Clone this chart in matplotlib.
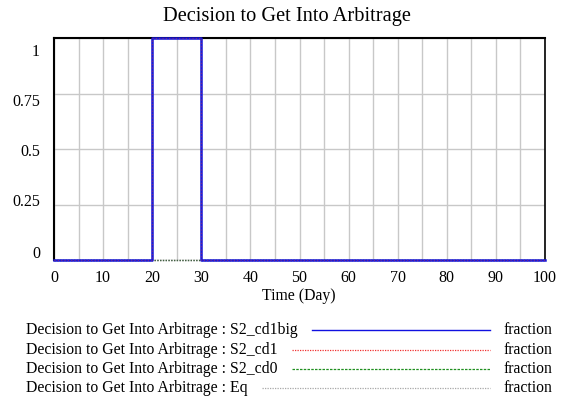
import matplotlib
matplotlib.use("Agg")
import matplotlib.pyplot as plt
from matplotlib.lines import Line2D
from matplotlib.transforms import ScaledTranslation

plt.rcParams['font.family'] = ['Liberation Serif', 'DejaVu Serif']

title = "Decision to Get Into Arbitrage"
xlabel = "Time (Day)"
time = [0, 20, 20, 30, 30, 100]
s2_cd1big = [0, 0, 1, 1, 0, 0]
s2_cd1 = [0, 0, 1, 1, 0, 0]
s2_cd0 = [0, 0, 0, 0, 0, 0]
eq = [0, 0, 0, 0, 0, 0]
series_names = ["Decision to Get Into Arbitrage : S2_cd1big",
                "Decision to Get Into Arbitrage : S2_cd1",
                "Decision to Get Into Arbitrage : S2_cd0",
                "Decision to Get Into Arbitrage : Eq"]
units = "fraction"
yticks = [0, 0.25, 0.5, 0.75, 1]
ytick_labels = ["0", "0.25", "0.5", "0.75", "1"]
xticks = list(range(0, 101, 10))

W, H = 561, 404
fig = plt.figure(figsize=(W/100, H/100), dpi=100)
L, R, T, B = 54, 545, 38, 260
ax = fig.add_axes([L/W, 1-B/H, (R-L)/W, (B-T)/H])

ax.plot(time, eq, color='#909090', lw=1, ls=(0, (1, 1)), zorder=3, clip_on=False)
ax.plot(time, s2_cd0, color='#406040', lw=1, ls=(0, (1, 1)), zorder=4, clip_on=False)
ax.plot(time, s2_cd1big, color='#1818d8', lw=1.8, zorder=5, clip_on=False)
ax.plot(time, s2_cd1, color='#e03030', lw=0.8, ls=(0, (1, 2)), alpha=0.5, zorder=6, clip_on=False)

ax.set_xlim(0, 100)
ax.set_ylim(0, 1)
ax.set_xticks(xticks)
ax.set_xticks(range(0, 101, 5), minor=True)
ax.set_yticks(yticks)
ax.set_yticklabels(ytick_labels)
ax.grid(True, which='both', axis='x', color='#c8c8c8', lw=1)
ax.grid(True, which='major', axis='y', color='#c8c8c8', lw=1)
ax.tick_params(which='both', length=0, labelsize=11.5)
ax.tick_params(axis='x', pad=7)
ax.tick_params(axis='y', pad=10)
for s in ax.spines.values():
    s.set_color('black')
    s.set_linewidth(1.5)
ax.spines['right'].set_linewidth(1.2)
ax.spines['bottom'].set_visible(False)
ax.set_axisbelow(True)

# Vensim-style vertical shift of y tick labels (pixels, downward)
offsets = {"0": -8, "0.25": -4, "0.5": 1, "0.75": 7, "1": 12}
for lab in ax.get_yticklabels():
    dy = offsets.get(lab.get_text(), 0)
    lab.set_transform(lab.get_transform() + ScaledTranslation(0, -dy/100, fig.dpi_scale_trans))

fig.text(287/W, 1-17/H, title, ha='center', va='center', fontsize=14.7)
fig.text(299/W, 1-296/H, xlabel, ha='center', va='center', fontsize=11.3)

styles = [dict(color='#1010e0', lw=1.0),
          dict(color='#f03030', lw=0.9, ls=(0, (1, 1))),
          dict(color='#209020', lw=0.9, ls=(0, (2, 1))),
          dict(color='#a8a8a8', lw=0.9, ls=(0, (1, 1)))]
line_starts = [312, 292, 292, 262]
rows = [330, 350, 369, 388]
for name, st, ls_, y in zip(series_names, styles, line_starts, rows):
    fy = 1 - y/H
    fig.text(26/W, fy, name, ha='left', va='center', fontsize=11.3)
    fig.add_artist(Line2D([ls_/W, 490/W], [fy, fy], transform=fig.transFigure, **st))
    fig.text(552/W, fy, units, ha='right', va='center', fontsize=11.3)

fig.savefig("out.png", dpi=100)
